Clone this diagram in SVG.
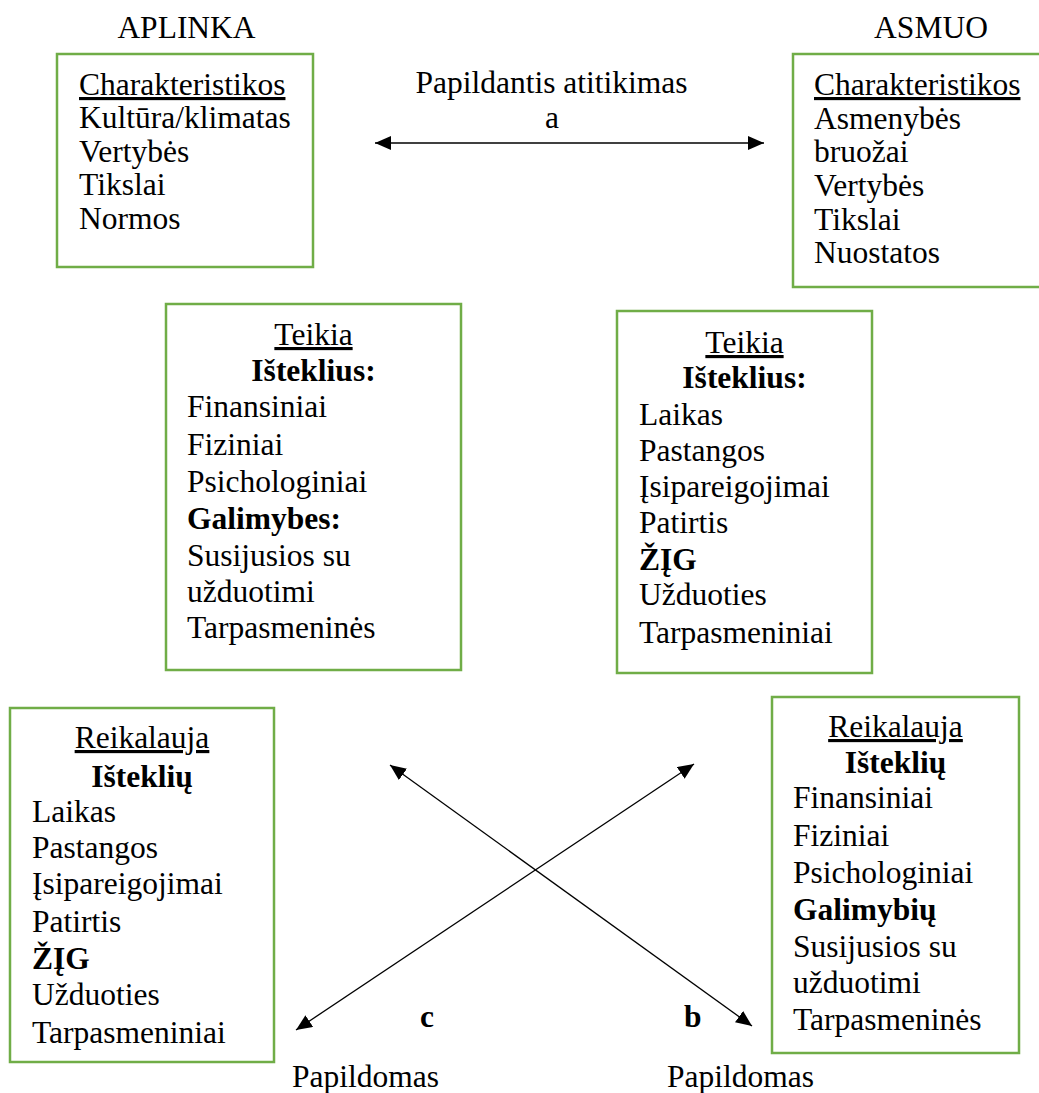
<svg xmlns="http://www.w3.org/2000/svg" width="1039" height="1093" viewBox="0 0 1039 1093">
<style>
text{font-family:'Liberation Serif','Times New Roman',Times,'DejaVu Serif',serif;font-size:31.5px;fill:#000}
.b{font-weight:bold}
.u{text-decoration:underline}
.m{text-anchor:middle}
.box{fill:#fff;stroke:#70ad47;stroke-width:2.5}
.con{stroke:#000;stroke-width:1.3;fill:none;marker-start:url(#ah);marker-end:url(#ah)}
</style>
<defs>
<marker id="ah" viewBox="0 0 16 14" refX="16" refY="7" markerWidth="16" markerHeight="14" markerUnits="userSpaceOnUse" orient="auto-start-reverse">
<path d="M0,0 L16,7 L0,14 z" fill="#000"/>
</marker>
</defs>
<rect width="1039" height="1093" fill="#fff"/>
<g font-family="Liberation Serif, Times New Roman, DejaVu Serif, serif">
<g id="labels">
<text class="m" x="186.5" y="38">APLINKA</text>
<text class="m" x="931" y="38">ASMUO</text>
<text class="m" x="551.5" y="93">Papildantis atitikimas</text>
<text class="m" x="552" y="128">a</text>
<text class="b" x="420" y="1027">c</text>
<text class="b" x="684" y="1027">b</text>
<text x="292" y="1087">Papildomas</text>
<text x="667" y="1087">Papildomas</text>
</g>

<g id="env-char">
<rect class="box" x="57" y="54" width="256" height="213"/>
<text class="u" x="79" y="95">Charakteristikos</text>
<text x="79" y="128">Kultūra/klimatas</text>
<text x="79" y="162">Vertybės</text>
<text x="79" y="195">Tikslai</text>
<text x="79" y="229">Normos</text>
</g>

<g id="person-char">
<rect class="box" x="793" y="54" width="260" height="233"/>
<text class="u" x="814" y="95">Charakteristikos</text>
<text x="814" y="128.5">Asmenybės</text>
<text x="814" y="162">bruožai</text>
<text x="814" y="195.5">Vertybės</text>
<text x="814" y="229.5">Tikslai</text>
<text x="814" y="263">Nuostatos</text>
</g>

<g id="env-supplies">
<rect class="box" x="166" y="304" width="295" height="366"/>
<text class="m u" x="313.5" y="345">Teikia</text>
<text class="m b" x="313.5" y="381">Išteklius:</text>
<text x="187" y="417">Finansiniai</text>
<text x="187" y="455">Fiziniai</text>
<text x="187" y="492">Psichologiniai</text>
<text class="b" x="187" y="529">Galimybes:</text>
<text x="187" y="566">Susijusios su</text>
<text x="187" y="602">užduotimi</text>
<text x="187" y="638">Tarpasmeninės</text>
</g>

<g id="person-supplies">
<rect class="box" x="617" y="311" width="255" height="362"/>
<text class="m u" x="744.5" y="353">Teikia</text>
<text class="m b" x="744.5" y="388">Išteklius:</text>
<text x="639" y="425">Laikas</text>
<text x="639" y="461">Pastangos</text>
<text x="639" y="497">Įsipareigojimai</text>
<text x="639" y="533">Patirtis</text>
<text class="b" x="639" y="570">ŽĮG</text>
<text x="639" y="605">Užduoties</text>
<text x="639" y="643">Tarpasmeniniai</text>
</g>

<g id="env-demands">
<rect class="box" x="10" y="708" width="264" height="354"/>
<text class="m u" x="142" y="748">Reikalauja</text>
<text class="m b" x="142" y="787">Išteklių</text>
<text x="32" y="822">Laikas</text>
<text x="32" y="858">Pastangos</text>
<text x="32" y="894">Įsipareigojimai</text>
<text x="32" y="932">Patirtis</text>
<text class="b" x="32" y="969">ŽĮG</text>
<text x="32" y="1005">Užduoties</text>
<text x="32" y="1043">Tarpasmeniniai</text>
</g>

<g id="person-demands">
<rect class="box" x="772" y="697" width="247" height="356"/>
<text class="m u" x="895.5" y="737">Reikalauja</text>
<text class="m b" x="895.5" y="773">Išteklių</text>
<text x="793" y="808">Finansiniai</text>
<text x="793" y="846">Fiziniai</text>
<text x="793" y="883">Psichologiniai</text>
<text class="b" x="793" y="920">Galimybių</text>
<text x="793" y="957">Susijusios su</text>
<text x="793" y="993">užduotimi</text>
<text x="793" y="1030">Tarpasmeninės</text>
</g>
</g>
<g id="connectors">
<line class="con" x1="375" y1="143" x2="764" y2="143"/>
<line class="con" x1="296" y1="1030" x2="694" y2="764"/>
<line class="con" x1="390" y1="765" x2="752" y2="1026"/>
</g>
</svg>
